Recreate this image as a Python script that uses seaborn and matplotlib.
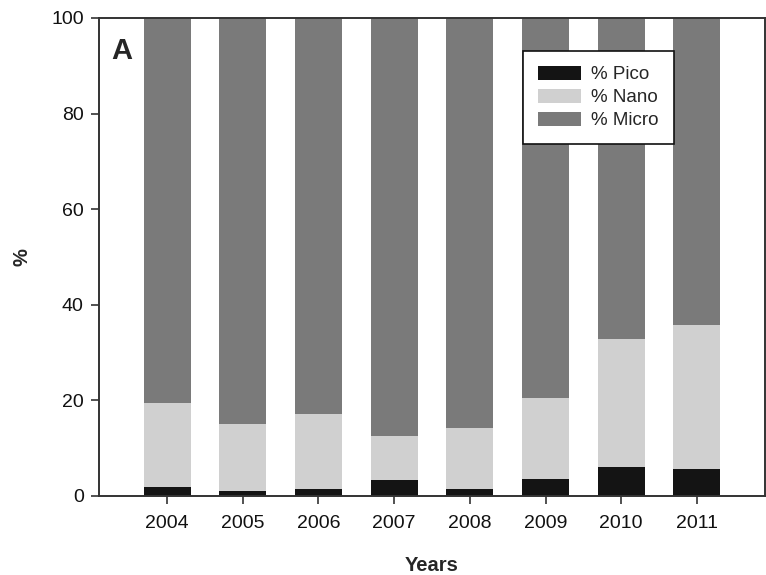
import matplotlib
matplotlib.use("Agg")
import matplotlib.pyplot as plt
import seaborn as sns
import numpy as np
import pandas as pd
from matplotlib.patches import Patch

years = ["2004", "2005", "2006", "2007", "2008", "2009", "2010", "2011"]
pico = [1.8, 1.0, 1.5, 3.3, 1.5, 3.6, 6.1, 5.7]
nano = [17.6, 14.1, 15.7, 9.3, 12.8, 17.0, 26.7, 30.1]
micro = [80.6, 84.9, 82.8, 87.4, 85.7, 79.4, 67.2, 64.2]

sns.set_style("ticks")
plt.rcParams['font.family'] = ['Liberation Sans', 'DejaVu Sans']

c_pico = "#141414"
c_nano = "#d0d0d0"
c_micro = "#7a7a7a"

df = pd.DataFrame({"year": years, "pico": pico, "nano": nano, "micro": micro})
df["top_nano"] = df["pico"] + df["nano"]
df["top_micro"] = df["top_nano"] + df["micro"]

fig = plt.figure(figsize=(7.66, 5.75), dpi=100)
ax = fig.add_axes([99/766, 79/575, 666/766, 478/575])

w = 0.62
sns.barplot(data=df, x="year", y="top_micro", color=c_micro, width=w, ax=ax,
            saturation=1, edgecolor="none", linewidth=0)
sns.barplot(data=df, x="year", y="top_nano", color=c_nano, width=w, ax=ax,
            saturation=1, edgecolor="none", linewidth=0)
sns.barplot(data=df, x="year", y="pico", color=c_pico, width=w, ax=ax,
            saturation=1, edgecolor="none", linewidth=0)

ax.set_xlim(-0.9, 7.9)
ax.set_ylim(0, 100)
ax.set_yticks([0, 20, 40, 60, 80, 100])

for s in ax.spines.values():
    s.set_color("#333333")
    s.set_linewidth(1.4)
    s.set_visible(True)

ax.tick_params(axis="both", direction="out", length=6, width=1.2, color="#333333",
               labelsize=14, labelcolor="#111111", pad=5)
ax.tick_params(axis="x", pad=8)

ax.set_xlabel("Years", fontsize=14.5, fontweight="bold", labelpad=17)
ax.set_ylabel("%", fontsize=14.5, fontweight="bold", labelpad=14)

ax.text(-0.74, 96.0, "A", fontsize=21, fontweight="bold", va="top", ha="left")

handles = [Patch(facecolor=c_pico, edgecolor="none", label="% Pico"),
           Patch(facecolor=c_nano, edgecolor="none", label="% Nano"),
           Patch(facecolor=c_micro, edgecolor="none", label="% Micro")]
leg = ax.legend(handles=handles, loc="upper left", bbox_to_anchor=(424/666, 1 - 33/478),
                fontsize=13.5, frameon=True, fancybox=False, handlelength=2.3,
                handleheight=0.75, labelspacing=0.3, borderpad=0.8, handletextpad=0.55,
                borderaxespad=0)
leg.get_frame().set_edgecolor("#111111")
leg.get_frame().set_linewidth(1.2)
leg.get_frame().set_alpha(1)

fig.savefig("out.png", dpi=100)
